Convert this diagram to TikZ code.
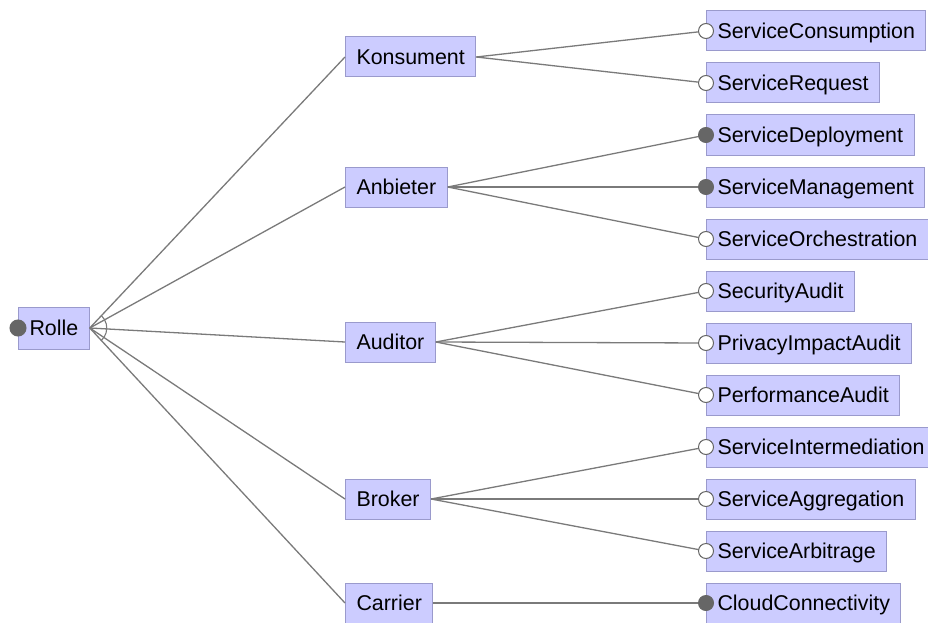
\documentclass[tikz,border=0pt]{standalone}
\usepackage{fontspec}
\setmainfont{Liberation Sans}
\begin{document}
\definecolor{boxfill}{HTML}{CCCCFF}
\definecolor{boxline}{HTML}{9A9ACC}
\definecolor{edge}{HTML}{7A7A7A}
\definecolor{knob}{HTML}{666666}
\begin{tikzpicture}[x=1pt,y=-1pt,
  feat/.style={draw=boxline, fill=boxfill, line width=1pt, anchor=west,
    minimum height=40pt, inner xsep=11pt, inner ysep=0pt,
    font=\fontsize{21.4}{25}\selectfont, text depth=0pt, text height=15pt},
  link/.style={draw=edge, line width=1.3pt},
  mand/.style={circle, fill=knob, draw=knob, line width=1pt, minimum size=15pt, inner sep=0pt},
  opt/.style={circle, fill=white, draw=knob, line width=1pt, minimum size=15pt, inner sep=0pt}]
\useasboundingbox (0,0) rectangle (928,623);

% root
\node[feat, minimum height=42pt] (rolle) at (18,328) {Rolle};

% roles
\node[feat] (kons) at (345,57)  {Konsument};
\node[feat] (anb)  at (345,187) {Anbieter};
\node[feat] (aud)  at (345,342) {Auditor};
\node[feat] (brok) at (345,499) {Broker};
\node[feat] (carr) at (345,603) {Carrier};

% leaf features
\node[feat] (scons) at (706,31)  {ServiceConsumption};
\node[feat] (sreq)  at (706,83)  {ServiceRequest};
\node[feat] (sdep)  at (706,135) {ServiceDeployment};
\node[feat] (smgmt) at (706,187) {ServiceManagement};
\node[feat] (sorch) at (706,239) {ServiceOrchestration};
\node[feat] (secau) at (706,291) {SecurityAudit};
\node[feat] (priv)  at (706,343) {PrivacyImpactAudit};
\node[feat] (perf)  at (706,395) {PerformanceAudit};
\node[feat] (sint)  at (706,447) {ServiceIntermediation};
\node[feat] (sagg)  at (706,499) {ServiceAggregation};
\node[feat] (sarb)  at (706,551) {ServiceArbitrage};
\node[feat] (cloud) at (706,603) {CloudConnectivity};

% connectors
\foreach \c in {kons,anb,aud,brok,carr}
  \draw[link] (rolle.east) -- (\c.west);
\foreach \c in {scons,sreq} \draw[link] (kons.east) -- (\c.west);
\foreach \c in {sdep,smgmt,sorch} \draw[link] (anb.east) -- (\c.west);
\foreach \c in {secau,priv,perf} \draw[link] (aud.east) -- (\c.west);
\foreach \c in {sint,sagg,sarb} \draw[link] (brok.east) -- (\c.west);
\draw[link] (carr.east) -- (cloud.west);

% group arc at the root
\draw[draw=edge, line width=1.1pt] (rolle.east) ++(46.8:17) arc[start angle=46.8, end angle=-46.8, radius=17];

% feature markers
\node[mand, minimum size=16pt] (rk) at (rolle.west) {};
\foreach \c in {scons,sreq,sorch,secau,priv,perf,sint,sagg,sarb}
  \node[opt] at (\c.west) {};
\foreach \c in {sdep,smgmt,cloud}
  \node[mand] at (\c.west) {};
\end{tikzpicture}
\end{document}
